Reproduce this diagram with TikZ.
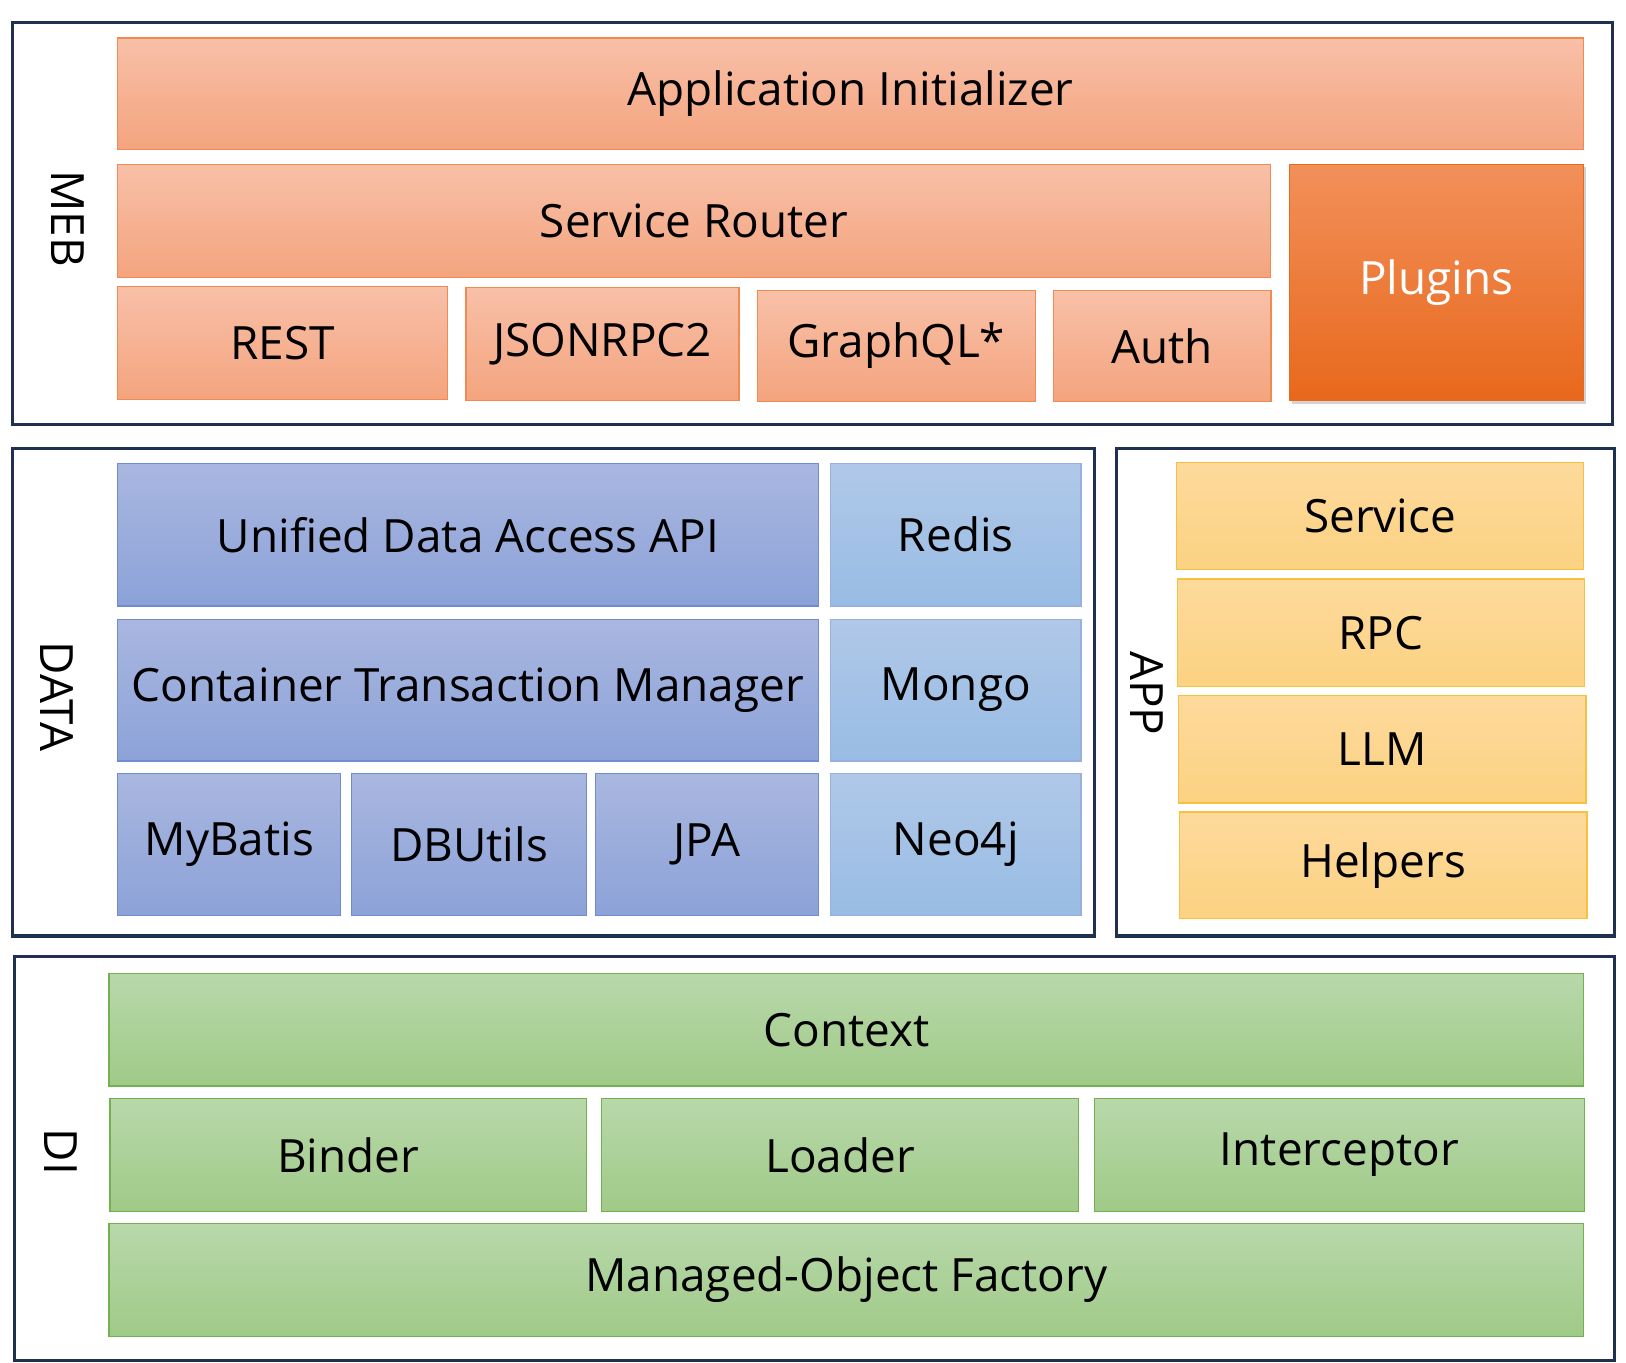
\documentclass[tikz,border=0pt]{standalone}
\usepackage{fontspec}
\setmainfont{Open Sans}
\usetikzlibrary{positioning,shadows}
\definecolor{navy}{HTML}{1F3050}
\definecolor{orTop}{HTML}{F8C0A8}
\definecolor{orBot}{HTML}{F4A47E}
\definecolor{orLine}{HTML}{F08A50}
\definecolor{plTop}{HTML}{F2905A}
\definecolor{plBot}{HTML}{E8681C}
\definecolor{blTop}{HTML}{A9B7E0}
\definecolor{blBot}{HTML}{8CA2D8}
\definecolor{blLine}{HTML}{6E8CCF}
\definecolor{skTop}{HTML}{B0C8E8}
\definecolor{skBot}{HTML}{98BCE4}
\definecolor{ylTop}{HTML}{FDDA9C}
\definecolor{ylBot}{HTML}{FCD282}
\definecolor{ylLine}{HTML}{F8C040}
\definecolor{gnTop}{HTML}{B8D8AA}
\definecolor{gnBot}{HTML}{A0CA88}
\definecolor{gnLine}{HTML}{72B050}
\begin{document}
\begin{tikzpicture}
                [x=1pt,y=-1pt,
                 blk/.style = {draw, line width=1.2pt, inner sep=0pt, font=\fontsize{44}{50}\selectfont, text=black},
                 meb/.style = {blk, draw=orLine, top color=orTop, bottom color=orBot},
                 plug/.style = {blk, draw=plBot, top color=plTop, bottom color=plBot, text=white, drop shadow={opacity=0.35}},
                 dat/.style = {blk, draw=blLine, top color=blTop, bottom color=blBot},
                 kv/.style = {blk, draw=blLine!70, top color=skTop, bottom color=skBot},
                 app/.style = {blk, draw=ylLine, top color=ylTop, bottom color=ylBot},
                 di/.style = {blk, draw=gnLine, top color=gnTop, bottom color=gnBot},
                 frame/.style = {draw=navy, line width=3pt},
                 tag/.style = {font=\fontsize{44}{50}\selectfont, rotate=-90}]
    \useasboundingbox (0,0) rectangle (1560,1307);

    % frames
    \draw[frame] (12,22) rectangle (1547,407);
    \draw[frame] (12,430) rectangle (1050,898);
    \draw[frame] (1071,430) rectangle (1549,898);
    \draw[frame] (14,918) rectangle (1549,1305);
    \node[tag] (tmeb) at (65,210) {MEB};
    \node[tag] (tdata) at (55,668) {DATA};
    \node[tag] (tapp) at (1100,665) {APP};
    \node[tag] (tdi) at (58,1105) {DI};

    % MEB
    \node[meb, minimum width=1406pt, minimum height=107pt] (init) at (816,90) {Application Initializer};
    \node[meb, minimum width=1106pt, minimum height=109pt] (router) at (666,212) {Service Router};
    \node[plug, minimum width=282pt, minimum height=227pt] (plugins) at (1378,271) {Plugins};
    \node[meb, minimum width=316pt, minimum height=108pt] (rest) at (271,329) {REST};
    \node[meb, minimum width=262pt, minimum height=108pt] (jsonrpc) at (578,330) {JSONRPC2};
    \node[meb, minimum width=267pt, minimum height=107pt] (graphql) at (860,332) {GraphQL*};
    \node[meb, minimum width=209pt, minimum height=107pt] (auth) at (1115,332) {Auth};

    % DATA
    \node[dat, minimum width=672pt, minimum height=137pt] (uda) at (449,513) {Unified Data Access API};
    \node[kv, minimum width=240pt, minimum height=137pt] (redis) at (917,513) {Redis};
    \node[dat, minimum width=672pt, minimum height=136pt] (ctm) at (449,662) {Container Transaction Manager};
    \node[kv, minimum width=240pt, minimum height=136pt] (mongo) at (917,662) {Mongo};
    \node[dat, minimum width=214pt, minimum height=136pt] (mybatis) at (220,810) {MyBatis};
    \node[dat, minimum width=225pt, minimum height=136pt] (dbutils) at (450,810) {DBUtils};
    \node[dat, minimum width=214pt, minimum height=136pt] (jpa) at (678,810) {JPA};
    \node[kv, minimum width=240pt, minimum height=136pt] (neo) at (917,810) {Neo4j};

    % APP
    \node[app, minimum width=391pt, minimum height=103pt] (service) at (1324,495) {Service};
    \node[app, minimum width=390pt, minimum height=103pt] (rpc) at (1325,607) {RPC};
    \node[app, minimum width=391pt, minimum height=103pt] (llm) at (1326,719) {LLM};
    \node[app, minimum width=391pt, minimum height=102pt] (helpers) at (1327,830) {Helpers};

    % DI
    \node[di, minimum width=1415pt, minimum height=108pt] (context) at (812,988) {Context};
    \node[di, minimum width=457pt, minimum height=108pt] (binder) at (334,1108) {Binder};
    \node[di, minimum width=458pt, minimum height=108pt] (loader) at (806,1108) {Loader};
    \node[di, minimum width=470pt, minimum height=108pt] (interceptor) at (1285,1108) {Interceptor};
    \node[di, minimum width=1415pt, minimum height=108pt] (factory) at (812,1228) {Managed-Object Factory};
\end{tikzpicture}
\end{document}
